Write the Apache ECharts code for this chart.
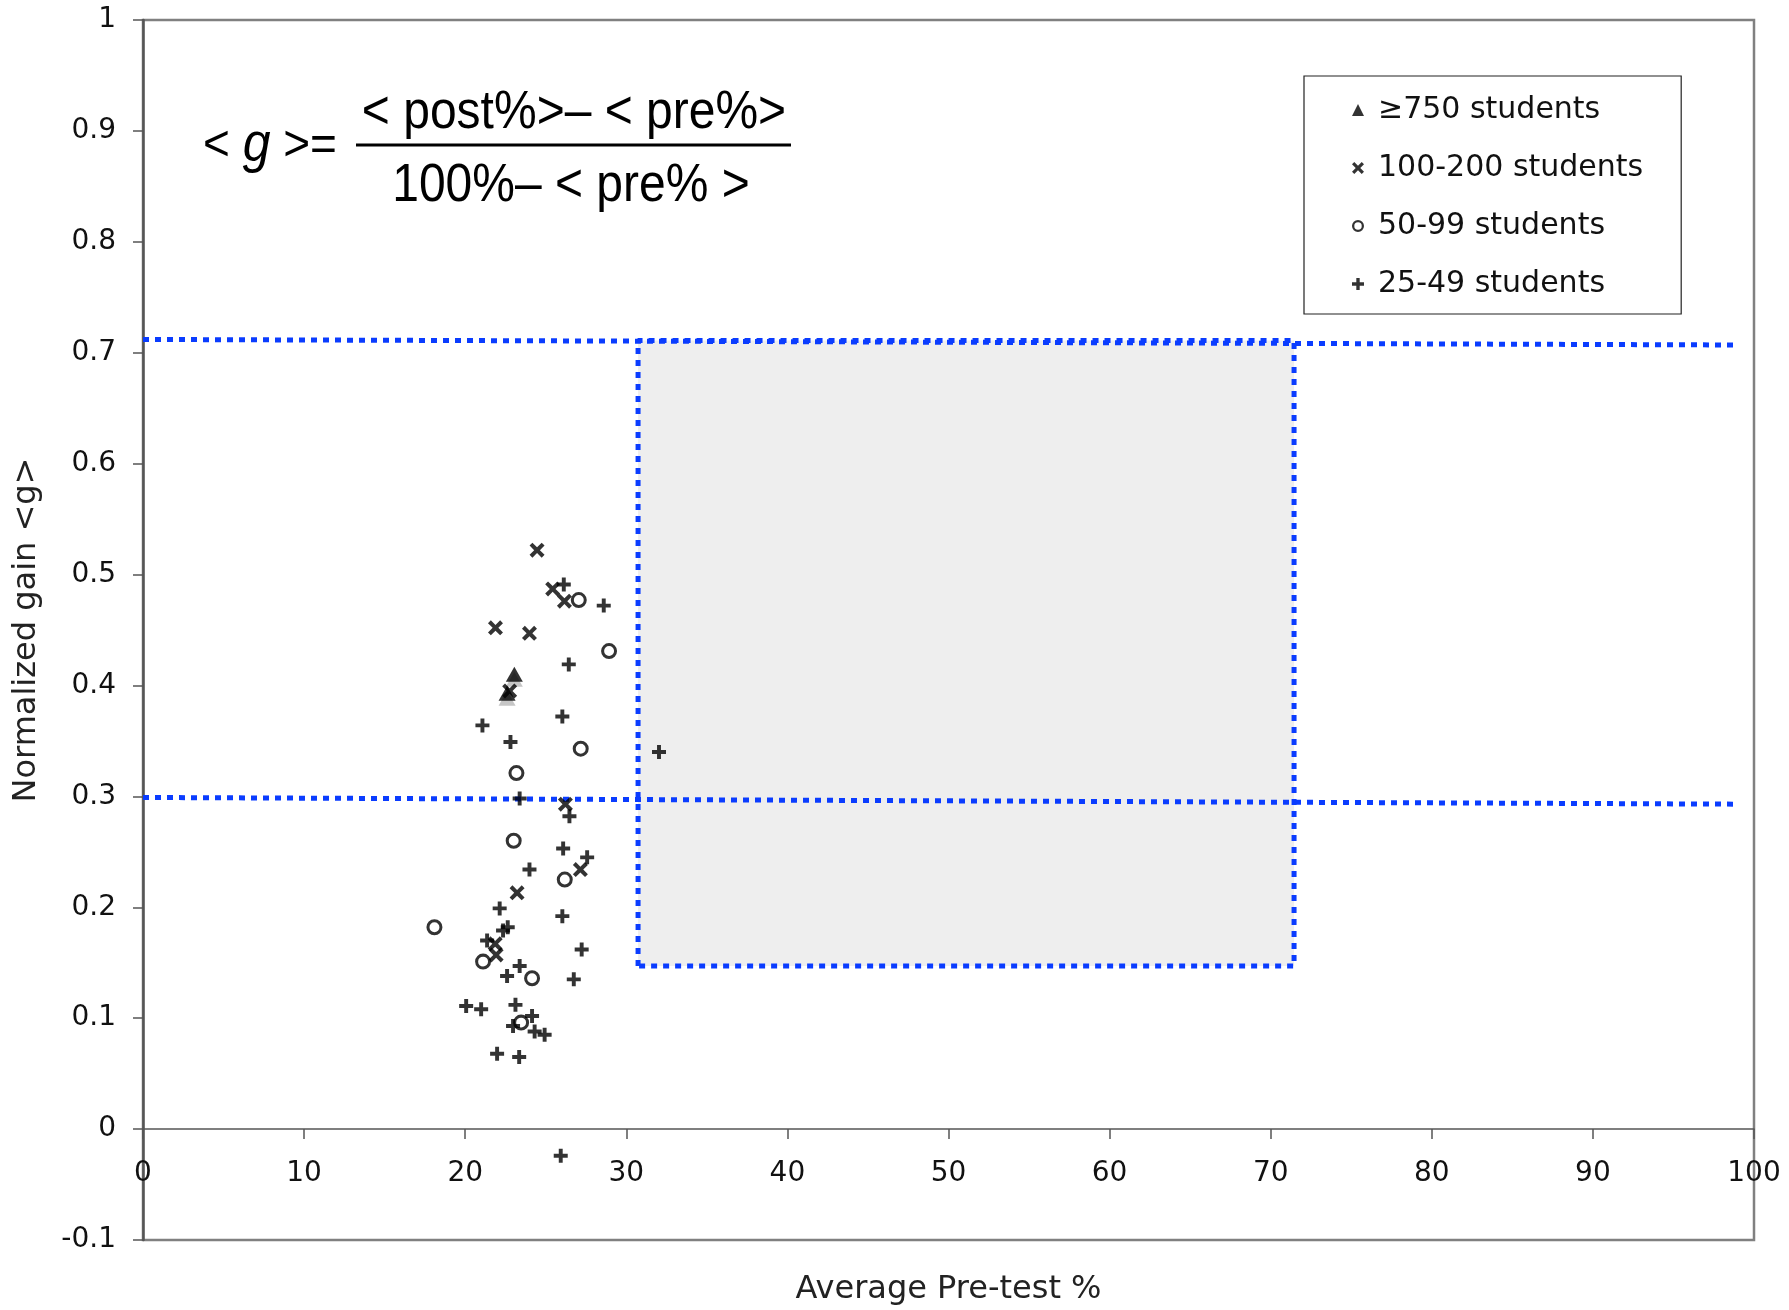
<!DOCTYPE html>
<html>
<head>
<meta charset="utf-8">
<script src="https://cdn.jsdelivr.net/npm/echarts@6/dist/echarts.min.js"></script>
<style>
html,body{margin:0;padding:0;background:#fff;}
#chart{width:1789px;height:1310px;}
</style>
</head>
<body>
<div id="chart"></div>
<script>
// ---- Data (x = Average Pre-test %, y = Normalized gain <g>) ----
var seriesNames = ['\u2265750 students', '100-200 students', '50-99 students', '25-49 students'];

var students750 = [[23.05, 0.410], [22.6, 0.393]];

var students100to200 = [
  [24.46, 0.522], [25.43, 0.487], [26.16, 0.476], [21.88, 0.452], [23.99, 0.447],
  [22.76, 0.395], [26.22, 0.293], [27.15, 0.234], [23.22, 0.213], [21.86, 0.167],
  [21.92, 0.157]
];

var students50to99 = [
  [27.05, 0.477], [28.93, 0.431], [27.17, 0.343], [23.18, 0.321], [23.01, 0.260],
  [26.18, 0.225], [18.09, 0.182], [21.11, 0.151], [24.15, 0.136], [23.47, 0.096]
];

var students25to49 = [
  [26.12, 0.491], [28.6, 0.472], [26.43, 0.419], [26.03, 0.372], [21.07, 0.364],
  [22.81, 0.349], [32.03, 0.340], [23.38, 0.298], [26.47, 0.282], [26.08, 0.253],
  [27.57, 0.245], [23.99, 0.234], [22.14, 0.199], [26.03, 0.192], [22.64, 0.182],
  [22.35, 0.179], [21.36, 0.170], [27.23, 0.162], [23.38, 0.147], [22.60, 0.138],
  [26.74, 0.135], [20.06, 0.111], [20.99, 0.108], [23.12, 0.112], [24.15, 0.102],
  [22.97, 0.093], [24.31, 0.088], [24.93, 0.085], [21.98, 0.068], [23.35, 0.065],
  [25.93, -0.024]
];

// reference lines and box
var upperLine = [[0, 0.712], [98.7, 0.707]];
var lowerLine = [[0, 0.299], [98.7, 0.293]];
var boxX = [30.73, 71.45];
var boxY = [0.147, 0.711];

// axes
var xTicks = { min: 0, max: 100, interval: 10 };
var yTicks = { min: -0.1, max: 1, interval: 0.1 };
var xTitle = 'Average Pre-test %';
var yTitle = 'Normalized gain <g>';

// ---- Chart ----
var BLUE = '#0a3cff';
var FONT = '"DejaVu Sans", Verdana, sans-serif';
var MATH = '"Liberation Sans", Arial, sans-serif';
var plusPath = 'path://M3.6,0H6.4V3.6H10V6.4H6.4V10H3.6V6.4H0V3.6H3.6Z';
var crossPath = 'path://M0,1.9L1.9,0L5,3.1L8.1,0L10,1.9L6.9,5L10,8.1L8.1,10L5,6.9L1.9,10L0,8.1L3.1,5Z';
var ringPath = 'path://M5,0A5,5,0,1,1,4.99,0ZM5,1.9A3.1,3.1,0,1,0,5.01,1.9Z';

var boxPath = [
  [boxX[0], boxY[0]], [boxX[0], boxY[1]], [boxX[1], boxY[1]], [boxX[1], boxY[0]], [boxX[0], boxY[0]]
];

var dotted = { color: BLUE, width: 5, type: [6, 6], cap: 'butt' };

var chart = echarts.init(document.getElementById('chart'), null, { renderer: 'canvas' });
chart.setOption({
  animation: false,
  backgroundColor: '#ffffff',
  grid: {
    left: 143, right: 35, top: 20, bottom: 70,
    containLabel: false, outerBoundsMode: 'none',
    show: true, borderColor: '#808080', borderWidth: 2.5, backgroundColor: 'transparent'
  },
  legend: {
    orient: 'vertical',
    left: 1304, top: 76,
    data: seriesNames,
    itemWidth: 12, itemHeight: 12,
    itemGap: 28,
    padding: [19, 38, 15, 48],
    borderColor: '#222', borderWidth: 1.2,
    backgroundColor: '#fff',
    textStyle: { fontFamily: FONT, fontSize: 30, color: '#111', lineHeight: 28, padding: [0, 0, 0, 9] },
    itemStyle: { shadowColor: 'rgba(0,0,0,0)', shadowOffsetY: 0 }
  },
  xAxis: {
    type: 'value',
    min: xTicks.min, max: xTicks.max, interval: xTicks.interval,
    name: xTitle, nameLocation: 'middle', nameGap: 34,
    nameTextStyle: { fontFamily: FONT, fontSize: 32, color: '#222' },
    axisLine: { onZero: true, lineStyle: { color: '#555', width: 1.5 } },
    axisTick: { show: true, length: 10, lineStyle: { color: '#555', width: 1.5 } },
    axisLabel: { fontFamily: FONT, fontSize: 28, color: '#111', margin: -80 },
    splitLine: { show: false }
  },
  yAxis: {
    type: 'value',
    min: yTicks.min, max: yTicks.max, interval: yTicks.interval,
    name: yTitle, nameLocation: 'middle', nameGap: 100, nameRotate: 90,
    nameTextStyle: { fontFamily: FONT, fontSize: 32, color: '#222' },
    axisLine: { lineStyle: { color: '#555', width: 2.5 } },
    axisTick: { show: true, length: 10, lineStyle: { color: '#555', width: 1.5 } },
    axisLabel: {
      fontFamily: FONT, fontSize: 28, color: '#111', margin: 27,
      formatter: function (v) { return String(+v.toFixed(1)); }
    },
    splitLine: { show: false }
  },
  series: [
    {
      name: 'box', type: 'line', data: boxPath, symbol: 'none', silent: true,
      lineStyle: dotted, z: 1,
      markArea: {
        silent: true,
        itemStyle: { color: '#eeeeee' },
        data: [[{ coord: [boxX[0], boxY[0]] }, { coord: [boxX[1], boxY[1]] }]]
      }
    },
    { name: 'upper', type: 'line', data: upperLine, symbol: 'none', silent: true, lineStyle: dotted, z: 2 },
    { name: 'lower', type: 'line', data: lowerLine, symbol: 'none', silent: true, lineStyle: dotted, z: 2 },
    {
      name: seriesNames[0], type: 'scatter', data: students750, z: 5,
      symbol: 'triangle', symbolSize: [17, 15],
      itemStyle: { color: '#000', shadowColor: '#b8b8b8', shadowBlur: 0, shadowOffsetY: 5 }
    },
    {
      name: seriesNames[1], type: 'scatter', data: students100to200, z: 5,
      symbol: crossPath, symbolSize: 15,
      itemStyle: { color: '#000' }
    },
    {
      name: seriesNames[2], type: 'scatter', data: students50to99, z: 5,
      symbol: ringPath, symbolSize: 16,
      itemStyle: { color: '#000' }
    },
    {
      name: seriesNames[3], type: 'scatter', data: students25to49, z: 5,
      symbol: plusPath, symbolSize: 14,
      itemStyle: { color: '#000' }
    }
  ],
  graphic: [
    {
      type: 'text', x: 203, y: 146, z: 10, scaleY: 1.1,
      style: {
        text: '{a|< }{b|g}{a| >=}',
        verticalAlign: 'middle', align: 'left',
        rich: {
          a: { fontFamily: MATH, fontSize: 46, fill: '#000' },
          b: { fontFamily: MATH, fontSize: 50, fontStyle: 'italic', fill: '#000' }
        }
      }
    },
    {
      type: 'text', x: 574, y: 113, z: 10, scaleY: 1.1,
      style: {
        text: '< post%>\u2013 < pre%>',
        fontFamily: MATH, fontSize: 48, fill: '#000',
        align: 'center', verticalAlign: 'middle'
      }
    },
    {
      type: 'rect', z: 10,
      shape: { x: 356, y: 143.5, width: 435, height: 3 },
      style: { fill: '#000' }
    },
    {
      type: 'text', x: 571, y: 186, z: 10, scaleY: 1.1,
      style: {
        text: '100%\u2013 < pre% >',
        fontFamily: MATH, fontSize: 48, fill: '#000',
        align: 'center', verticalAlign: 'middle'
      }
    }
  ]
});
</script>
</body>
</html>
